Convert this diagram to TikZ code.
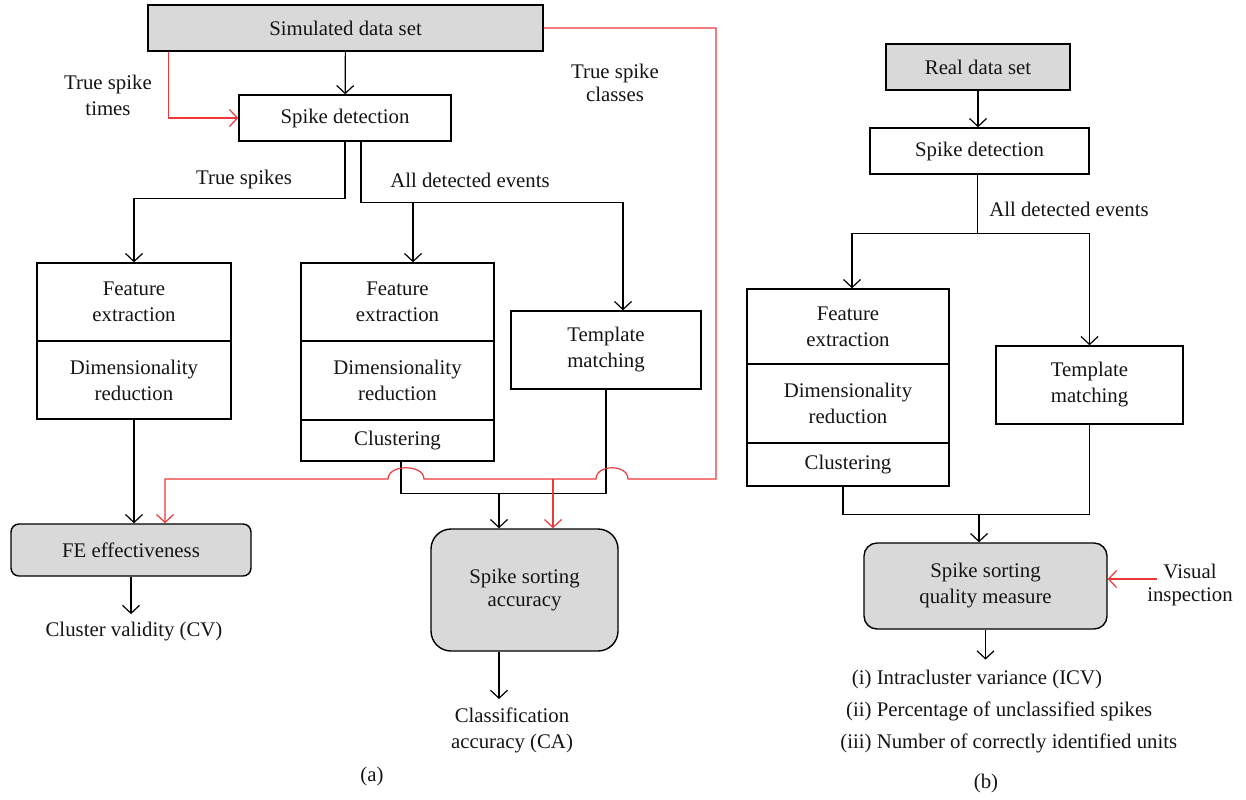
\documentclass[tikz,border=0pt]{standalone}
\usepackage{fontspec}
\setmainfont{Liberation Serif}
\usetikzlibrary{arrows.meta}
\definecolor{boxgray}{RGB}{217,217,217}
\definecolor{linkred}{RGB}{236,56,56}
\begin{document}
\begin{tikzpicture}[x=0.5pt,y=-0.5pt,
  every node/.style={font=\fontsize{10.4}{13}\selectfont, inner sep=0pt, text=black!92},
  box/.style={draw, line width=0.7pt, align=center},
  graybox/.style={box, fill=boxgray},
  roundbox/.style={graybox, rounded corners=#1},
  lbl/.style={align=center},
  conn/.style={line width=0.6pt},
  arr/.style={conn, -{Straight Barb[length=4pt,width=8.5pt]}},
  redconn/.style={conn, draw=linkred},
  redarr/.style={arr, draw=linkred},
]
\useasboundingbox (0,0) rectangle (1246,799);

% ---------- panel (a) ----------
\node[graybox, minimum width=197.5pt, minimum height=23pt] (sim) at (345.5,28) {Simulated data set};
\node[box, minimum width=106pt, minimum height=23pt] (sdA) at (345,118) {Spike detection};

\node[box, minimum width=97pt, minimum height=39pt] (fe1a) at (134,302) {Feature\\extraction};
\node[box, minimum width=97pt, minimum height=39pt] (fe1b) at (134,380) {Dimensionality\\reduction};

\node[box, minimum width=96.5pt, minimum height=39pt] (b2a) at (397.5,302) {Feature\\extraction};
\node[box, minimum width=96.5pt, minimum height=39.5pt] (b2b) at (397.5,380.5) {Dimensionality\\reduction};
\node[box, minimum width=96.5pt, minimum height=20.5pt] (b2c) at (397.5,440.5) {Clustering};

\node[box, minimum width=95pt, minimum height=39pt] (tmA) at (606,350) {Template\\matching};

\node[roundbox=4pt, minimum width=120pt, minimum height=26pt] (fee) at (131,550) {FE effectiveness};
\node[roundbox=10pt, minimum width=93.5pt, minimum height=61pt, font=\fontsize{10.4}{11.5}\selectfont] (ssa) at (524.5,590) {Spike sorting\\accuracy};

\node[lbl] (tst) at (108,95) {True spike\\times};
\node[lbl, font=\fontsize{10.4}{11.5}\selectfont] (tsc) at (615,83) {True spike\\classes};
\node[lbl] (tsp) at (244,179) {True spikes};
\node[lbl] (adeA) at (470,180) {All detected events};
\node[lbl] (cv) at (134,632) {Cluster validity (CV)};
\node[lbl] (ca) at (512,730) {Classification\\accuracy (CA)};
\node (capa) at (372,776) {(a)};

\coordinate (brA) at (413,202);
\coordinate (jb) at (499,493);
\coordinate (r1) at (716,479);
\coordinate (r2) at (165,479);
\coordinate (r3) at (553,479);

\draw[arr] (sim) -- (sdA);
\draw[redarr] ([xshift=10.5pt]sim.south west) |- (sdA.west);
\draw[arr] (sdA.south) -- ++(0,57) -| (fe1a.north);
\draw[arr] ([xshift=8pt]sdA.south) -- ++(0,61) -| ([xshift=8.5pt]tmA.north);
\draw[arr] (brA) -- (brA |- b2a.north);
\draw[arr] (fe1b.south) -- (fe1b.south |- fee.north);
\draw[arr, shorten >=4pt] (fee.south) -- (fee.south |- cv.north);
\draw[conn] ([xshift=1.75pt]b2c.south) -- ++(0,32) -| (tmA.south);
\draw[arr] (jb) -- (jb |- ssa.north);
\draw[arr, shorten >=4pt] (jb |- ssa.south) -- (jb |- ca.north);

\draw[redarr] (sim.east) -| (r1) -- (628,479) .. controls (628,464) and (596,464) .. (596,479)
  -- (424,479) .. controls (424,464) and (388,464) .. (388,479) -- (r2) -- (r2 |- fee.north);
\draw[redarr] (r3) -- (r3 |- ssa.north);

% ---------- panel (b) ----------
\node[graybox, minimum width=92pt, minimum height=23pt] (real) at (978,67) {Real data set};
\node[box, minimum width=109.5pt, minimum height=23pt] (sdB) at (979.5,151) {Spike detection};

\node[box, minimum width=101pt, minimum height=37.5pt] (bb1) at (848,326.5) {Feature\\extraction};
\node[box, minimum width=101pt, minimum height=39.5pt] (bb2) at (848,403.5) {Dimensionality\\reduction};
\node[box, minimum width=101pt, minimum height=21.5pt] (bb3) at (848,464.5) {Clustering};

\node[box, minimum width=93.5pt, minimum height=39pt] (tmB) at (1089.5,385) {Template\\matching};
\node[roundbox=6.5pt, minimum width=121.5pt, minimum height=43pt] (ssq) at (985.5,586) {Spike sorting\\quality measure};

\node[lbl] (adeB) at (1069,209) {All detected events};
\node[lbl, font=\fontsize{10.4}{11.5}\selectfont] (vis) at (1190,585) {Visual\\inspection};
\node[anchor=west] (meas) at (840,711) {\begin{tabular}{@{}r@{\ }l@{}}(i)&Intracluster variance (ICV)\\[3pt](ii)&Percentage of unclassified spikes\\[3pt](iii)&Number of correctly identified units\end{tabular}};
\node (capb) at (986,783) {(b)};

\coordinate (jd) at (979,514);
\coordinate (vi) at (1157,579);

\draw[arr] (real.south) -- (real.south |- sdB.north);
\draw[conn] ([xshift=-1pt]sdB.south) -- ++(0,59) coordinate (jc);
\draw[arr] (jc) -| ([xshift=2pt]bb1.north);
\draw[arr] (jc) -| (tmB.north);
\draw[conn] ([xshift=-2.5pt]bb3.south) -- ++(0,28) -| (tmB.south);
\draw[arr] (jd) -- (jd |- ssq.north);
\draw[arr, shorten >=3pt] (ssq.south) -- (ssq.south |- meas.north);
\draw[redarr] (vi) -- (vi -| ssq.east);
\end{tikzpicture}
\end{document}
